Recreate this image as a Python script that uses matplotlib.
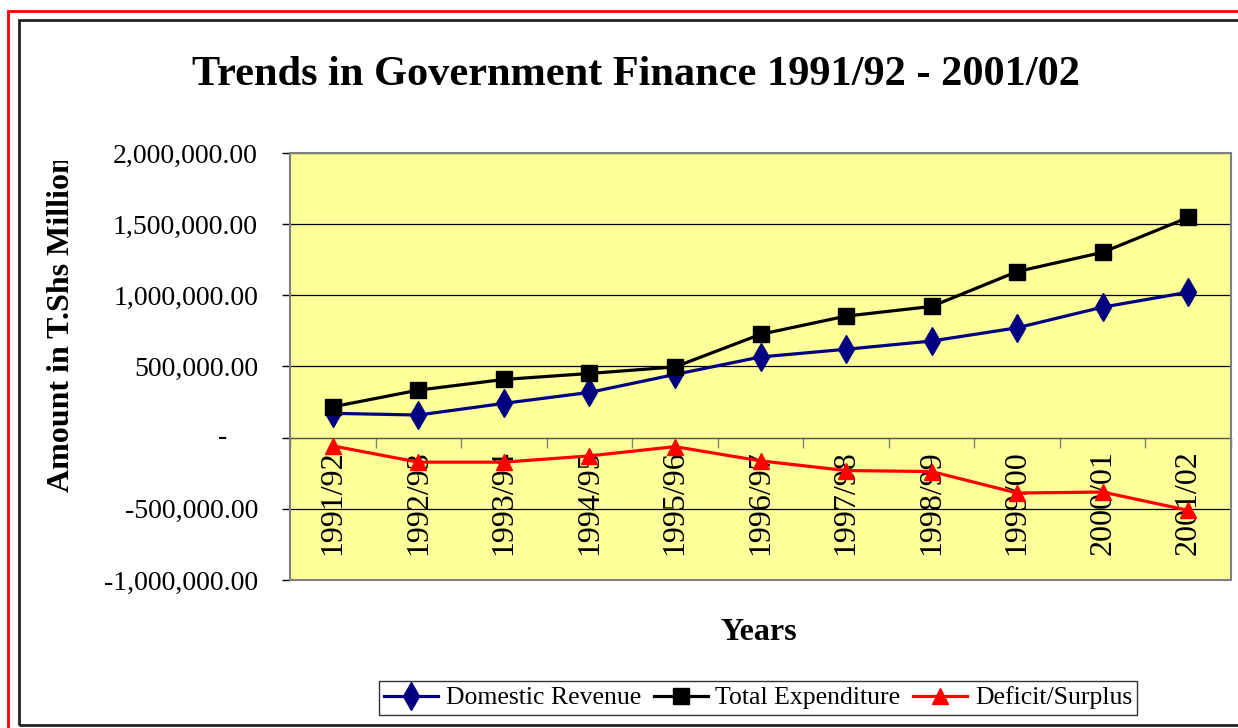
"""Trends in Government Finance 1991/92 - 2001/02 (line chart, Excel style)."""

import matplotlib
matplotlib.use("Agg")
import matplotlib.pyplot as plt
from matplotlib.patches import Rectangle
from matplotlib.ticker import FuncFormatter
from matplotlib.transforms import Bbox, blended_transform_factory

plt.rcParams["font.family"] = ["Liberation Serif", "DejaVu Serif"]

W, H = 1238, 728

years = ["1991/92", "1992/93", "1993/94", "1994/95", "1995/96", "1996/97",
         "1997/98", "1998/99", "1999/00", "2000/01", "2001/02"]
domestic_revenue = [171000, 159000, 241000, 318000, 444000, 567000,
                    621000, 679000, 772000, 917000, 1022000]
total_expenditure = [217000, 334000, 409000, 451000, 497000, 726000,
                     854000, 922000, 1167000, 1302000, 1547000]
deficit_surplus = [-58000, -172000, -172000, -128000, -63000, -163000,
                   -231000, -238000, -389000, -382000, -511000]
y_ticks = [-1000000, -500000, 0, 500000, 1000000, 1500000, 2000000]


def px_x(x):
    return x / W


def px_y(y):
    return 1 - y / H


def fmt(v, pos):
    if v == 0:
        return ""
    return f"{v:,.2f}"


fig = plt.figure(figsize=(W / 100, H / 100), dpi=100)

# outer frames
fig.patches.append(Rectangle((px_x(8), -0.05), 1.2, px_y(11) + 0.05, transform=fig.transFigure,
                             fill=False, edgecolor="red", lw=2, zorder=0))
fig.patches.append(Rectangle((px_x(19), px_y(725)), 1.2, px_y(20) - px_y(725), transform=fig.transFigure,
                             fill=False, edgecolor="#222222", lw=2, zorder=0))

ax = fig.add_axes([px_x(290), px_y(580), px_x(1231) - px_x(290), px_y(153) - px_y(580)])
ax.set_facecolor("#FFFF99")

x = list(range(len(years)))
ax.plot(x, domestic_revenue, color="#000080", lw=2.3, marker="d", ms=14,
        label="Domestic Revenue", zorder=4, clip_on=False)
ax.plot(x, total_expenditure, color="black", lw=2.3, marker="s", ms=11,
        label="Total Expenditure", zorder=5, clip_on=False)
ax.plot(x, deficit_surplus, color="red", lw=2.3, marker="^", ms=12,
        label="Deficit/Surplus", zorder=4, clip_on=False)

ax.set_xlim(-0.5, len(years) - 0.5)
ax.set_ylim(-1000000, 2000000)
ax.set_yticks(y_ticks)
ax.yaxis.set_major_formatter(FuncFormatter(fmt))
ax.tick_params(axis="y", length=6, width=1, pad=17, labelsize=20, direction="out")
ax.grid(axis="y", color="black", lw=0.9)
ax.set_axisbelow(True)

# zero line carries the category axis
for s in ("top", "right", "left"):
    ax.spines[s].set_visible(False)
ax.spines["bottom"].set_position(("data", 0))
ax.spines["bottom"].set_color("#555555")
ax.spines["bottom"].set_zorder(3)
ax.set_xticks([i - 0.5 for i in range(len(years) + 1)])
ax.set_xticklabels([])
ax.set_xticks(x, minor=True)
ax.set_xticklabels(years, minor=True, rotation=90)
ax.tick_params(axis="x", which="major", length=7, width=1, direction="out", color="#808080")
ax.tick_params(axis="x", which="minor", length=0, pad=9, labelsize=23)
ax.add_patch(Rectangle((0, 0), 1, 1, transform=ax.transAxes, fill=False,
                       edgecolor="#808080", lw=1.5, zorder=6, clip_on=False))

# Excel shows zero as a dash
trans = blended_transform_factory(fig.transFigure, ax.transData)
ax.text(px_x(227), 0, "-", transform=trans, ha="right", va="center", fontsize=20)

fig.text(px_x(636), px_y(75), "Trends in Government Finance 1991/92 - 2001/02",
         ha="center", va="center", fontsize=30.5, fontweight="bold")
fig.text(px_x(759), px_y(633), "Years", ha="center", va="center",
         fontsize=23, fontweight="bold")
ylab = fig.text(px_x(62), px_y(492), "Amount in T.Shs Million", rotation=90,
                ha="center", va="bottom", fontsize=23, fontweight="bold")
# the label runs past the chart area in the original and is cut off at the top
ylab.set_clip_box(Bbox([[0, 0], [W, H - 161]]))
ylab.set_clip_on(True)

leg = fig.legend(loc="center", bbox_to_anchor=(px_x(758), px_y(698)), ncol=3,
                 fontsize=18.5, frameon=True, fancybox=False, edgecolor="black",
                 handlelength=2.1, handletextpad=0.3, columnspacing=0.5,
                 borderpad=0.2, borderaxespad=0)
leg.get_frame().set_linewidth(1)

fig.savefig("out.png", dpi=100)
